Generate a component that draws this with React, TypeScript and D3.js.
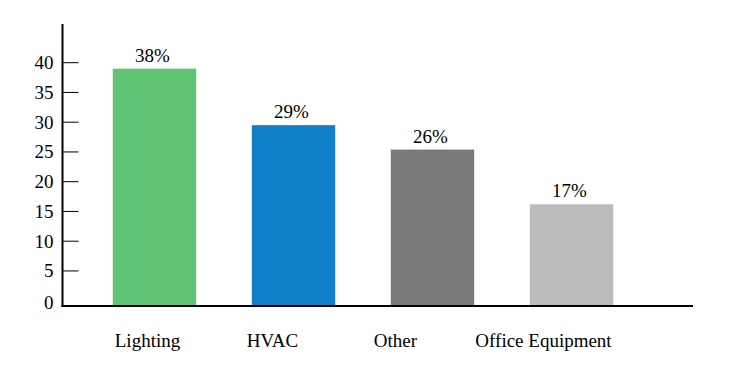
import React from "react";
import * as d3 from "d3";

const categories = ["Lighting", "HVAC", "Other", "Office Equipment"];
const values = [39, 29.5, 25.4, 16.2];
const valueLabels = ["38%", "29%", "26%", "17%"];
const colors = ["#5fc274", "#0f7fc9", "#7a7879", "#bbbbbb"];
const yTicks = [0, 5, 10, 15, 20, 25, 30, 35, 40];
// horizontal offset of each category label from its bar centre (layout only)
const labelOffsets = [-7, -21, -37, -28];

const W = 755;
const H = 378;
const axisX = 62.5;
const axisY = 306;
const font = "Liberation Serif";

export default function App() {
  const x = d3
    .scaleBand<string>()
    .domain(categories)
    .range([85, 641])
    .paddingInner(0.4)
    .paddingOuter(0.2);
  const y = d3.scaleLinear().domain([0, 40]).range([300.7, 62.7]);

  return (
    <svg
      width={W}
      height={H}
      style={{ position: "absolute", left: 0, top: 0, background: "#fff" }}
    >
      {categories.map((c, i) => (
        <rect
          key={c}
          x={x(c)}
          y={y(values[i])}
          width={x.bandwidth()}
          height={axisY - y(values[i])}
          fill={colors[i]}
        />
      ))}
      {categories.map((c, i) => (
        <text
          key={"v" + c}
          x={(x(c) as number) + x.bandwidth() / 2 - 2}
          y={y(values[i]) - 7}
          textAnchor="middle"
          style={{ fontFamily: font, fontSize: 19 }}
          fill="#000"
        >
          {valueLabels[i]}
        </text>
      ))}
      {yTicks.map((t) => (
        <g key={t}>
          {t > 0 && (
            <line x1={axisX} x2={axisX + 16} y1={y(t)} y2={y(t)} stroke="#000" strokeWidth={1} />
          )}
          <text
            x={53.5}
            y={t === 0 ? y(t) + 8.5 : y(t) + 6.5}
            textAnchor="end"
            style={{ fontFamily: font, fontSize: 19 }}
            fill="#000"
          >
            {t}
          </text>
        </g>
      ))}
      <line x1={axisX} x2={axisX} y1={24} y2={axisY + 1} stroke="#000" strokeWidth={2} />
      <line x1={axisX - 1} x2={693} y1={axisY} y2={axisY} stroke="#000" strokeWidth={2} />
      {categories.map((c, i) => (
        <text
          key={"c" + c}
          x={(x(c) as number) + x.bandwidth() / 2 + labelOffsets[i]}
          y={347}
          textAnchor="middle"
          style={{ fontFamily: font, fontSize: 19 }}
          fill="#000"
        >
          {c}
        </text>
      ))}
    </svg>
  );
}
